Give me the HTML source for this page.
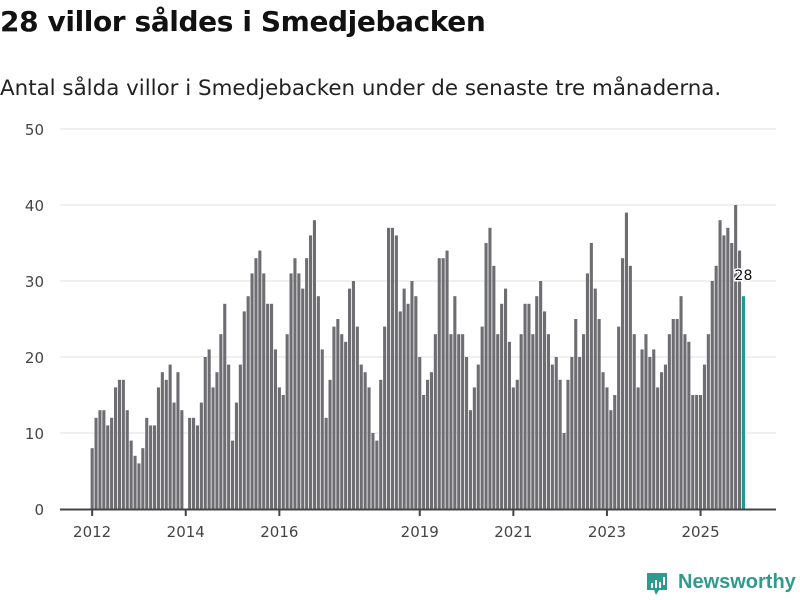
<!DOCTYPE html>
<html><head><meta charset="utf-8"><style>
body{margin:0;background:#fff;font-family:"Liberation Sans","DejaVu Sans",sans-serif;}
#wrap{position:relative;width:800px;height:600px;overflow:hidden;}
h1{position:absolute;left:0;top:5px;margin:0;font-size:28px;font-weight:bold;color:#111;font-family:"DejaVu Sans","Liberation Sans",sans-serif;letter-spacing:-0.4px;white-space:nowrap}
.sub{position:absolute;left:0;top:76px;font-size:21.4px;color:#222;font-family:"DejaVu Sans","Liberation Sans",sans-serif;white-space:nowrap}
</style></head><body><div id="wrap">
<h1>28 villor såldes i Smedjebacken</h1>
<div class="sub">Antal sålda villor i Smedjebacken under de senaste tre månaderna.</div>
<svg id="chart" width="800" height="600" style="position:absolute;left:0;top:0"></svg>
<div style="position:absolute;left:645px;top:570px;width:155px;height:28px">
<svg width="24" height="26" style="position:absolute;left:0;top:1px"><path d="M2 2h20v17h-8l-3 5-2-5H2z" fill="#2f9a8f"/><rect x="6" y="12" width="2" height="5" fill="#fff"/><rect x="10" y="9" width="2" height="8" fill="#fff"/><rect x="14" y="11" width="2" height="6" fill="#fff"/><rect x="18" y="6" width="2" height="8" fill="#fff"/></svg>
<span style="position:absolute;left:33px;top:1px;font-size:20px;font-weight:bold;color:#2f9a8f;font-family:'Liberation Sans',sans-serif">Newsworthy</span>
</div>
</div>
<script>
const startYear = 2012;
const values = [8,12,13,13,11,12,16,17,17,13,9,7,
6,8,12,11,11,16,18,17,19,14,18,13,
0,12,12,11,14,20,21,16,18,23,27,19,
9,14,19,26,28,31,33,34,31,27,27,21,
16,15,23,31,33,31,29,33,36,38,28,21,
12,17,24,25,23,22,29,30,24,19,18,16,
10,9,17,24,37,37,36,26,29,27,30,28,
20,15,17,18,23,33,33,34,23,28,23,23,
20,13,16,19,24,35,37,32,23,27,29,22,
16,17,23,27,27,23,28,30,26,23,19,20,
17,10,17,20,25,20,23,31,35,29,25,18,
16,13,15,24,33,39,32,23,16,21,23,20,
21,16,18,19,23,25,25,28,23,22,15,15,
15,19,23,30,32,38,36,37,35,40,34,28];
const yTicks = [0,10,20,30,40,50];
const xTickYears = [2012,2014,2016,2019,2021,2023,2025];

const svg = document.getElementById('chart');
const NS = 'http://www.w3.org/2000/svg';
const y = v => 509 - v * 7.6;
const x = i => 90.6 + i * 3.9;
const bw = 3.1;
function mk(tag, attrs){const e=document.createElementNS(NS,tag);for(const k in attrs)e.setAttribute(k,attrs[k]);svg.appendChild(e);return e;}

yTicks.forEach(t=>{
  if(t>0){const g=mk('line',{x1:60,x2:776,y1:y(t),y2:y(t),stroke:'#e0e0e0','stroke-width':1});
  
  }
  const l=mk('text',{x:44,y:y(t)+6,'text-anchor':'end','font-size':15,fill:'#444','font-family':'DejaVu Sans, Liberation Sans, sans-serif'});
  l.textContent=t;
  
  
});
values.forEach((v,i)=>{
  if(!v) return;
  const last = i===values.length-1;
  const r=mk('rect',{x:x(i),y:y(v),width:bw,height:509-y(v),fill:last?'#1f9a8f':'#6e6d72'});
  
  
});
const ax=mk('line',{x1:60,x2:776,y1:509.5,y2:509.5,stroke:'#444','stroke-width':2});


xTickYears.forEach(yr=>{
  const i=(yr-startYear)*12, cx=x(i)+bw/2;
  const t=mk('line',{x1:cx,x2:cx,y1:509,y2:516,stroke:'#444','stroke-width':2});
  
  
  const l=mk('text',{x:cx,y:537,'text-anchor':'middle','font-size':15,fill:'#444','font-family':'DejaVu Sans, Liberation Sans, sans-serif'});
  l.textContent=yr;
  
  
});
const li=values.length-1;
const lab=mk('text',{x:x(li)+bw/2,y:y(values[li])-16,'text-anchor':'middle','font-size':14,fill:'#111',stroke:'#fff','stroke-width':3,'paint-order':'stroke','font-family':'DejaVu Sans, Liberation Sans, sans-serif'});
lab.textContent=values[li];


</script>
</body></html>
